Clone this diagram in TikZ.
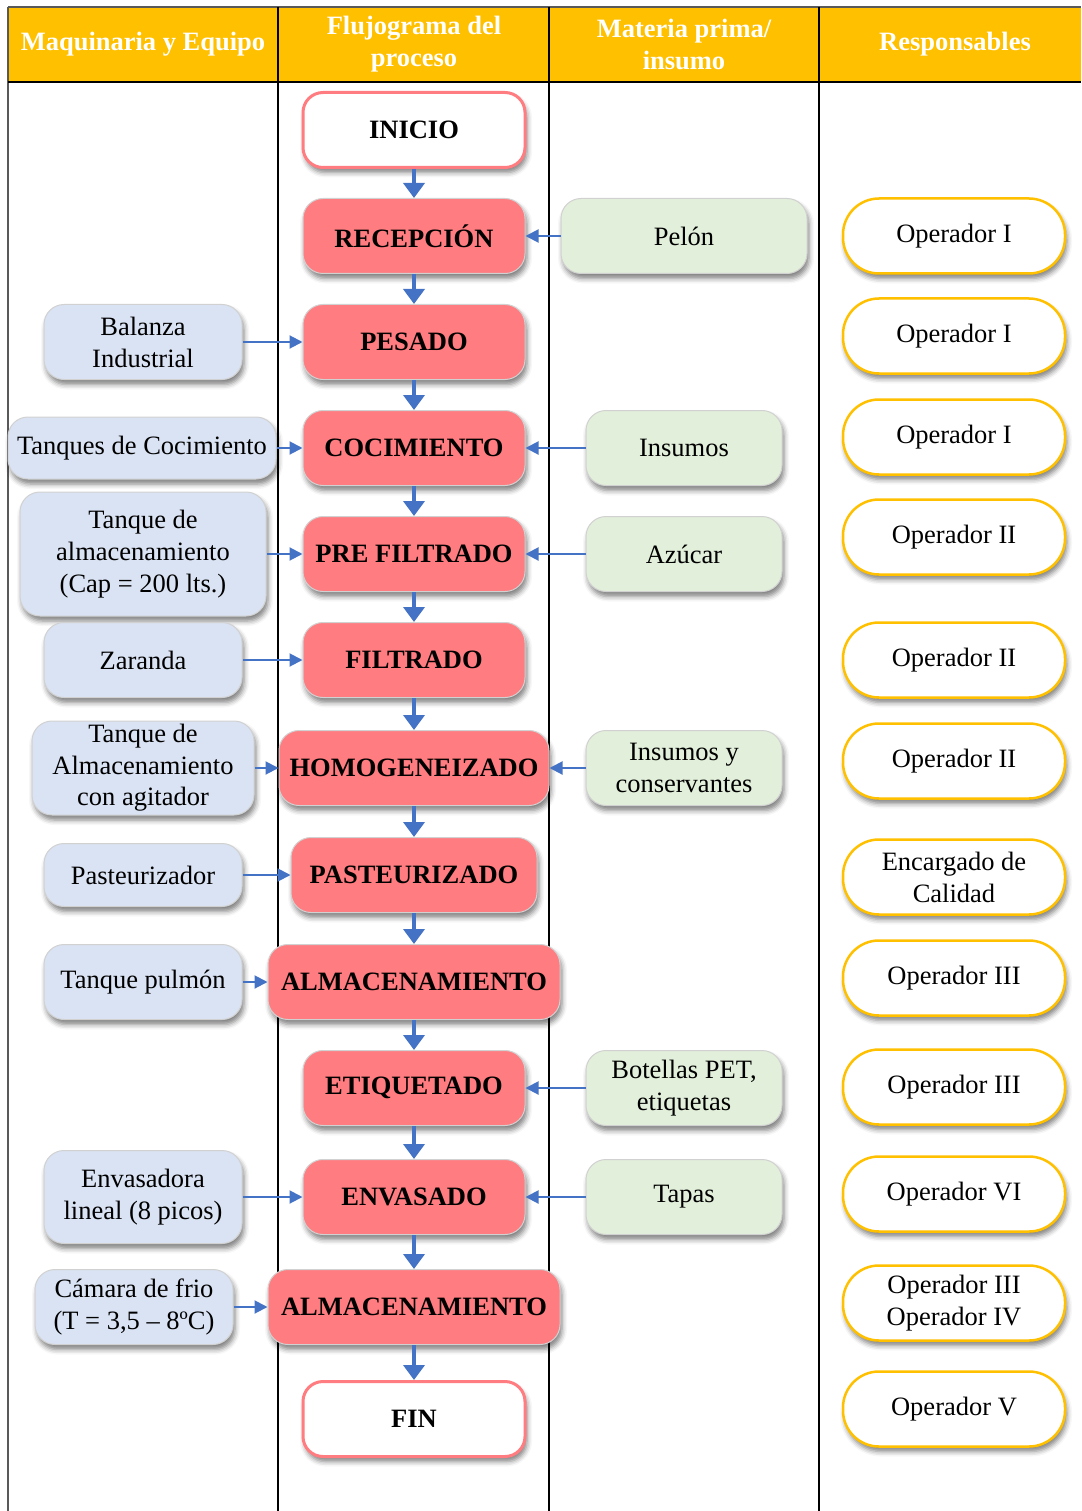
\documentclass[tikz,border=0pt]{standalone}
\usepackage{fontspec}
\setmainfont{Liberation Serif}
\usetikzlibrary{shadows.blur,arrows.meta}
\definecolor{hdr}{HTML}{FFC000}
\definecolor{procred}{HTML}{FF7C80}
\definecolor{eqblue}{HTML}{DAE3F3}
\definecolor{matgreen}{HTML}{E2EFDA}
\definecolor{flowblue}{HTML}{4472C4}
\tikzset{
  box/.style={rounded corners=20pt, minimum height=75pt, inner sep=3pt, align=center,
    font=\fontsize{26.5}{32}\selectfont,
    blur shadow={shadow xshift=2pt, shadow yshift=-5pt, shadow blur radius=5pt, shadow opacity=50}},
  proc/.style={box, fill=procred, draw=black!18, line width=1pt, minimum width=222pt,
    font=\fontsize{26.5}{32}\selectfont\bfseries},
  term/.style={proc, fill=white, draw=procred, line width=3pt},
  equip/.style={box, fill=eqblue, draw=black!18, line width=1pt, minimum width=198pt},
  mat/.style={box, fill=matgreen, draw=black!18, line width=1pt, minimum width=196pt},
  resp/.style={box, rounded corners=36pt, fill=white, draw=hdr, line width=2.5pt,
    minimum width=222pt},
  down/.style={flowblue, line width=4.5pt, -{Triangle[width=21pt,length=15pt]}},
  side/.style={flowblue, line width=2pt, -{Triangle[width=13pt,length=13pt]}},
  head/.style={font=\fontsize{26.5}{32}\selectfont\bfseries, text=white, align=center}
}
\begin{document}
\begin{tikzpicture}[x=1pt,y=-1pt]
\useasboundingbox (0,0) rectangle (1081,1511);

% table frame and header row
\fill[hdr] (8,7) rectangle (1081,82);
\draw[black!65, line width=2pt] (8,7) -- (1081,7);
\draw[black!65, line width=2pt] (8,7) -- (8,1511);
\draw[line width=1.3pt] (8,82) -- (1081,82);
\foreach \x in {278,549,819} \draw[line width=1.3pt] (\x,7) -- (\x,1511);

\node[head] (h1) at (143,44) {Maquinaria y Equipo};
\node[head] (h2) at (414,44) {Flujograma del\\proceso};
\node[head] (h3) at (684,44) {Materia prima/\\insumo};
\node[head] (h4) at (955,44) {Responsables};

% process flow
\node[term] (p0)  at (414,130)  {INICIO};
\node[proc] (p1)  at (414,236)  {RECEPCIÓN};
\node[proc] (p2)  at (414,342)  {PESADO};
\node[proc] (p3)  at (414,448)  {COCIMIENTO};
\node[proc] (p4)  at (414,554)  {PRE FILTRADO};
\node[proc] (p5)  at (414,660)  {FILTRADO};
\node[proc, minimum width=270pt] (p6)  at (414,768)  {HOMOGENEIZADO};
\node[proc, minimum width=246pt] (p7)  at (414,875)  {PASTEURIZADO};
\node[proc, minimum width=292pt] (p8)  at (414,982)  {ALMACENAMIENTO};
\node[proc] (p9)  at (414,1088) {ETIQUETADO};
\node[proc] (p10) at (414,1197) {ENVASADO};
\node[proc, minimum width=292pt] (p11) at (414,1307) {ALMACENAMIENTO};
\node[term] (p12) at (414,1419) {FIN};

\foreach \a/\b in {p0/p1,p1/p2,p2/p3,p3/p4,p4/p5,p5/p6,p6/p7,p7/p8,p8/p9,p9/p10,p10/p11,p11/p12}
  \draw[down] (\a) -- (\b);

% machinery and equipment
\node[equip] (e1) at (143,342) {Balanza\\Industrial};
\node[equip, minimum width=268pt, minimum height=62pt] (e2) at (142,448) {Tanques de Cocimiento};
\node[equip, minimum width=246pt, minimum height=124pt] (e3) at (143,554) {Tanque de\\almacenamiento\\(Cap = 200 lts.)};
\node[equip] (e4) at (143,660) {Zaranda};
\node[equip, minimum width=222pt, minimum height=94pt, inner sep=1pt,
      font=\fontsize{26.5}{31.5}\selectfont] (e5) at (143,768) {Tanque de\\Almacenamiento\\con agitador};
\node[equip, minimum height=63pt] (e6) at (143,875) {Pasteurizador};
\node[equip] (e7) at (143,982) {Tanque pulmón};
\node[equip, minimum height=93pt] (e8) at (143,1197) {Envasadora\\lineal (8 picos)};
\node[equip] (e9) at (134,1307) {Cámara de frio\\(T = 3,5 – 8ºC)};

\draw[side] (e1) -- (p2);
\draw[side] (e2) -- (p3);
\draw[side] (e3) -- (p4);
\draw[side] (e4) -- (p5);
\draw[side] (e5) -- (p6);
\draw[side] (e6) -- (p7);
\draw[side] (e7) -- (p8);
\draw[side] (e8) -- (p10);
\draw[side] (e9) -- (p11);

% raw materials and supplies
\node[mat, minimum width=246pt] (m1) at (684,236) {Pelón};
\node[mat] (m2) at (684,448)  {Insumos};
\node[mat] (m3) at (684,554)  {Azúcar};
\node[mat] (m4) at (684,768)  {Insumos y\\conservantes};
\node[mat] (m5) at (684,1088) {Botellas PET,\\etiquetas};
\node[mat] (m6) at (684,1197) {Tapas};

\draw[side] (m1) -- (p1);
\draw[side] (m2) -- (p3);
\draw[side] (m3) -- (p4);
\draw[side] (m4) -- (p6);
\draw[side] (m5) -- (p9);
\draw[side] (m6) -- (p10);

% people in charge
\node[resp] (r1)  at (954,236)  {Operador I};
\node[resp] (r2)  at (954,336)  {Operador I};
\node[resp] (r3)  at (954,437)  {Operador I};
\node[resp] (r4)  at (954,537)  {Operador II};
\node[resp] (r5)  at (954,660)  {Operador II};
\node[resp] (r6)  at (954,761)  {Operador II};
\node[resp] (r7)  at (954,877)  {Encargado de\\Calidad};
\node[resp] (r8)  at (954,978)  {Operador III};
\node[resp] (r9)  at (954,1087) {Operador III};
\node[resp] (r10) at (954,1194) {Operador VI};
\node[resp] (r11) at (954,1303) {Operador III\\Operador IV};
\node[resp] (r12) at (954,1409) {Operador V};
\end{tikzpicture}
\end{document}
